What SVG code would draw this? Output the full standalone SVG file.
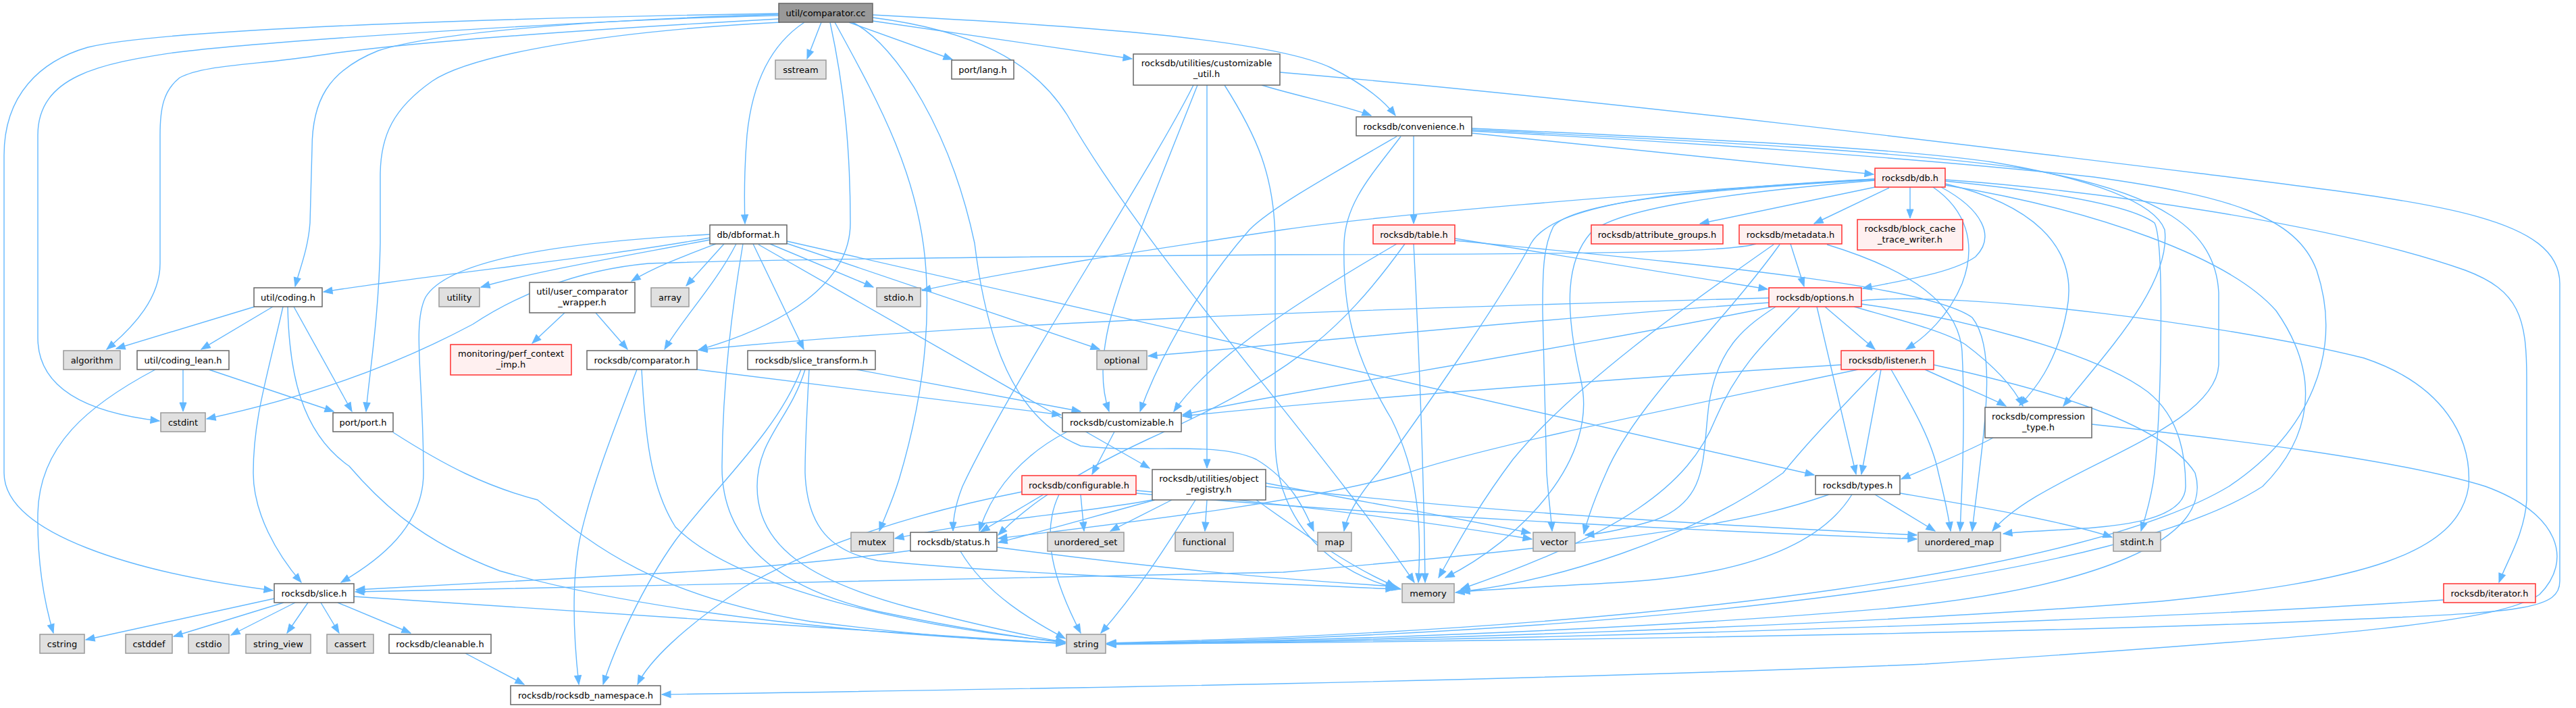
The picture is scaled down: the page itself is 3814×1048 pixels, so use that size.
<svg xmlns="http://www.w3.org/2000/svg" width="3814" height="1048" viewBox="0 0 3814 1048">
<defs>
<marker id="ah" markerUnits="userSpaceOnUse" markerWidth="14" markerHeight="11" refX="13" refY="5" orient="auto" overflow="visible"><path d="M0,0 L13,5 L0,10 z" fill="#63b8ff" stroke="#63b8ff" stroke-width="1"/></marker>
<style>
.w{fill:#ffffff;stroke:#666666;stroke-width:1.5}
.g{fill:#e0e0e0;stroke:#999999;stroke-width:1.5}
.r{fill:#fff0f0;stroke:#ff3030;stroke-width:1.5}
.root{fill:#999999;stroke:#666666;stroke-width:1.5}
text{font-family:"DejaVu Sans","Liberation Sans",sans-serif;font-size:13px;text-anchor:middle;fill:#000000}
#edges path{fill:none;stroke:#63b8ff;stroke-width:1.4;marker-end:url(#ah)}
</style>
</defs>
<rect x="0" y="0" width="3814" height="1048" fill="#ffffff"/>
<g id="edges">
<path d="M1153,20 C900,24 260,38 130,70 C60,90 6,140 6,230 L6,700 C6,790 200,848 404,874"/>
<path d="M1153,23 C900,28 400,60 257,78 C150,94 56,112 56,200 L56,500 C56,580 140,612 236,623"/>
<path d="M1153,28 C900,42 600,62 465,83 C380,96 300,96 266,115 C242,134 237,160 237,200 L237,390 C237,440 200,482 158,517"/>
<path d="M1153,21 C900,29 650,46 560,75 C485,105 462,150 462,220 L459,330 C456,370 443,400 437,424"/>
<path d="M1155,33 C900,46 700,80 640,120 C583,160 563,200 563,260 L563,360 C561,470 546,560 542,609"/>
<path d="M1191,33 C1150,60 1115,110 1106,200 C1101,260 1102,300 1103,331"/>
<path d="M1216,33 L1195,87"/>
<path d="M1229,33 C1250,130 1259,220 1259,330 C1259,420 1160,482 1034,518"/>
<path d="M1236,33 C1300,150 1362,260 1371,400 C1380,540 1346,660 1331,710 C1320,745 1308,770 1302,786"/>
<path d="M1262,33 C1330,67 1409,200 1443,360 C1460,500 1500,620 1600,660 C1700,672 1800,652 1860,680 C1910,710 1930,750 1945,786"/>
<path d="M1257,33 L1410,88"/>
<path d="M1292,31 L1676,87"/>
<path d="M1292,22 C1600,38 1880,58 1970,100 C2020,125 2050,150 2066,171"/>
<path d="M1292,26 C1440,45 1530,90 1580,170 C1700,380 1950,650 2094,862"/>
<path d="M1868,126 C1920,142 1990,156 2030,171"/>
<path d="M1767,126 C1700,260 1500,560 1425,720 C1414,748 1411,770 1411,786"/>
<path d="M1773,126 C1720,260 1662,400 1642,480 C1628,540 1632,580 1642,609"/>
<path d="M1787,126 L1787,693"/>
<path d="M1813,126 C1860,200 1888,260 1888,360 L1888,650 C1888,780 1980,852 2074,872"/>
<path d="M1895,107 C2400,150 3000,225 3300,262 C3600,300 3790,320 3790,420 L3790,860 C3790,900 3740,906 3500,916 C3000,940 2000,952 1639,953"/>
<path d="M2179,197 L2774,258"/>
<path d="M2093,201 L2093,331"/>
<path d="M2068,202 C1950,270 1880,310 1850,340 C1780,420 1720,520 1688,609"/>
<path d="M2074,202 C2030,260 1992,300 1990,360 C1988,450 2000,520 2060,620 C2100,700 2105,780 2100,862"/>
<path d="M2179,190 C2500,205 2800,218 2950,240 C3100,265 3190,300 3205,340 C3215,420 3120,520 3055,601"/>
<path d="M2179,192 C2500,208 2800,222 3000,250 C3200,285 3280,340 3285,433 L3285,540 C3280,640 3020,700 2950,786"/>
<path d="M2179,194 C2500,210 2850,235 3100,262 C3300,290 3400,320 3430,400 C3470,520 3420,640 3300,720 C3100,840 2500,930 1639,952"/>
<path d="M2776,277 L2517,331"/>
<path d="M2797,278 L2686,331"/>
<path d="M2828,277 L2828,323"/>
<path d="M2874,277 C2935,310 2955,350 2925,380 C2890,405 2810,416 2758,427"/>
<path d="M2862,277 C2910,310 2928,360 2905,420 C2885,468 2850,500 2822,517"/>
<path d="M2880,266 C3100,282 3450,330 3650,400 C3730,430 3741,470 3741,560 L3741,740 C3738,790 3712,830 3700,862"/>
<path d="M2776,265 C2400,288 2050,318 1900,340 C1700,370 1500,400 1365,430"/>
<path d="M2776,266 C2500,282 2330,300 2300,335 C2285,365 2284,400 2284,460 L2290,700 C2293,740 2297,770 2298,786"/>
<path d="M2776,267 C2550,286 2390,310 2355,345 C2320,385 2315,450 2340,560 C2370,680 2250,800 2140,855"/>
<path d="M2776,265 C2450,282 2300,305 2267,360 C2225,440 2100,620 2040,700 C2010,735 1994,765 1990,786"/>
<path d="M2880,268 C3000,280 3150,300 3190,330 C3205,360 3200,600 3190,700 C3185,740 3175,770 3170,786"/>
<path d="M2880,272 C3000,300 3080,360 3060,460 C3045,540 3010,580 2990,600"/>
<path d="M2880,274 C3100,310 3300,380 3370,460 C3440,560 3420,650 3350,720 C3150,850 2500,935 1639,953"/>
<path d="M1072,361 L1016,423"/>
<path d="M1090,361 C1060,420 1012,470 984,517"/>
<path d="M1115,361 L1190,517"/>
<path d="M1140,361 L1293,425"/>
<path d="M1164,360 L1628,517"/>
<path d="M1165,357 L2686,703"/>
<path d="M1123,362 L1702,693"/>
<path d="M1100,361 C1085,450 1070,560 1069,690 C1068,800 1150,870 1300,905 C1420,930 1520,945 1577,951"/>
<path d="M1051,352 C900,380 650,405 479,432"/>
<path d="M1051,355 C920,380 800,400 712,425"/>
<path d="M1060,361 C1010,380 970,395 935,416"/>
<path d="M1051,347 C800,360 660,390 630,440 C610,480 627,560 627,700 C627,780 560,830 505,862"/>
<path d="M377,454 L172,516"/>
<path d="M404,454 L298,517"/>
<path d="M419,454 C395,560 375,620 375,700 C375,760 410,820 446,862"/>
<path d="M426,454 C428,550 445,640 517,690 C560,740 620,800 740,845 C1000,920 1400,945 1577,952"/>
<path d="M435,454 L521,609"/>
<path d="M271,547 L271,609"/>
<path d="M309,547 L494,609"/>
<path d="M230,547 C130,600 58,660 56,760 C55,830 65,890 79,937"/>
<path d="M836,463 L788,508"/>
<path d="M882,463 L929,517"/>
<path d="M1032,547 L1571,614"/>
<path d="M943,547 C915,620 875,720 858,800 C845,870 850,950 857,1013"/>
<path d="M950,547 C955,640 962,720 1000,780 C1100,880 1400,935 1577,950"/>
<path d="M1268,547 L1600,609"/>
<path d="M1186,547 C1150,640 1060,720 1000,800 C950,870 910,960 893,1013"/>
<path d="M1192,547 C1170,620 1121,650 1121,720 C1121,810 1200,860 1350,900 C1460,928 1530,944 1577,950"/>
<path d="M1198,547 C1194,620 1192,660 1192,700 C1195,780 1230,817 1300,830 C1500,850 1800,860 2065,872"/>
<path d="M2619,441 C2300,450 1500,470 1034,518"/>
<path d="M2619,448 C2300,470 1900,510 1700,527"/>
<path d="M2625,454 C2300,520 1900,580 1751,614"/>
<path d="M2702,454 L2776,517"/>
<path d="M2690,454 L2748,702"/>
<path d="M2745,454 C2800,470 2880,490 2910,510 C2950,540 2980,570 2995,601"/>
<path d="M2665,454 C2620,500 2574,540 2540,620 C2500,720 2400,790 2163,872"/>
<path d="M2629,454 C2590,480 2543,510 2530,600 C2520,680 2530,740 2450,770 C2400,785 2370,790 2347,792"/>
<path d="M2756,445 C2900,430 3300,480 3500,530 C3620,570 3660,650 3655,720 C3640,820 3500,860 3200,890 C2700,930 2000,950 1639,953"/>
<path d="M2756,450 C2900,470 3100,520 3180,580 C3230,620 3236,680 3236,720 C3236,790 3050,780 2966,790"/>
<path d="M2726,540 C2400,560 2000,590 1751,616"/>
<path d="M2751,547 C2500,600 2200,660 2084,700 C1950,740 1700,770 1478,797"/>
<path d="M2850,547 C2900,570 2950,590 2970,601"/>
<path d="M2785,547 L2756,702"/>
<path d="M2780,547 C2730,600 2680,650 2640,700 C2500,800 2300,860 2163,876"/>
<path d="M2800,547 C2830,600 2860,650 2870,700 C2880,740 2885,765 2888,786"/>
<path d="M2863,540 C3000,570 3200,620 3250,700 C3280,800 3100,870 2800,900 C2400,935 1900,950 1639,953"/>
<path d="M2651,361 L2671,424"/>
<path d="M2600,361 C2560,373 2400,376 1900,377 C1500,380 1100,385 960,390 C850,400 760,440 700,480 C550,560 400,600 306,620"/>
<path d="M2626,362 C2500,450 2330,570 2240,680 C2180,760 2150,820 2130,855"/>
<path d="M2635,362 C2550,480 2420,600 2378,700 C2360,740 2350,770 2345,790"/>
<path d="M2705,362 C2830,400 2900,450 2905,520 C2910,620 2905,720 2902,786"/>
<path d="M2154,353 L2617,428"/>
<path d="M2068,361 C1950,430 1800,520 1738,609"/>
<path d="M2080,361 C1980,500 1900,560 1700,650 C1550,720 1500,770 1478,792"/>
<path d="M2093,361 C2100,500 2108,700 2110,862"/>
<path d="M2154,356 C2500,390 2850,420 2920,470 C2960,520 2935,650 2920,786"/>
<path d="M2708,732 C2600,770 2450,800 1900,847 C1400,860 900,870 526,876"/>
<path d="M2813,730 C2900,745 3050,770 3127,795"/>
<path d="M2742,732 C2700,800 2600,850 2400,862 C2300,868 2200,872 2155,877"/>
<path d="M2776,732 L2865,786"/>
<path d="M2951,648 C2910,670 2860,690 2815,709"/>
<path d="M3097,628 C3300,650 3550,680 3680,720 C3790,760 3810,830 3760,880 C3700,920 3500,940 2850,983 C2200,1010 1500,1020 980,1028"/>
<path d="M1545,732 L1452,787"/>
<path d="M1568,732 C1540,790 1560,860 1600,937"/>
<path d="M1600,732 L1605,786"/>
<path d="M1513,728 C1350,760 1200,810 1100,870 C1010,930 960,980 944,1013"/>
<path d="M1682,726 C1900,745 2100,770 2268,798"/>
<path d="M1682,730 C2000,760 2500,785 2838,798"/>
<path d="M1706,740 C1600,760 1450,770 1325,797"/>
<path d="M1710,740 C1600,770 1530,790 1478,803"/>
<path d="M1735,740 L1644,786"/>
<path d="M1770,740 C1720,820 1680,880 1630,937"/>
<path d="M1787,740 L1784,786"/>
<path d="M1860,740 C1930,790 2000,840 2066,868"/>
<path d="M1874,715 C2000,740 2150,765 2266,789"/>
<path d="M1874,720 C2200,760 2600,780 2838,792"/>
<path d="M1348,815 C1200,835 1050,845 950,850 C800,858 650,866 527,873"/>
<path d="M1422,816 C1460,880 1530,920 1577,945"/>
<path d="M1476,810 C1700,840 1900,858 2065,868"/>
<path d="M1650,639 L1617,702"/>
<path d="M1580,639 C1520,670 1470,720 1450,786"/>
<path d="M689,967 L776,1013"/>
<path d="M406,886 L127,947"/>
<path d="M420,892 L257,942"/>
<path d="M437,892 L342,940"/>
<path d="M456,892 L425,937"/>
<path d="M475,892 L502,937"/>
<path d="M500,892 L608,937"/>
<path d="M524,883 C800,900 1300,935 1577,953"/>
<path d="M582,640 C660,690 720,720 796,740 C870,800 960,880 1200,920 C1400,945 1500,950 1577,952"/>
<path d="M3618,888 C3300,910 2500,945 1639,954"/>
</g>
<g id="n1"><rect class="root" x="1153" y="5" width="139" height="28"/><text x="1222.5" y="24">util/comparator.cc</text></g>
<g id="n2"><rect class="g" x="1148" y="89" width="75" height="28"/><text x="1185.5" y="108">sstream</text></g>
<g id="n3"><rect class="w" x="1409" y="89" width="92" height="28"/><text x="1455" y="108">port/lang.h</text></g>
<g id="n4"><rect class="w" x="1678" y="80" width="217" height="46"/><text x="1786.5" y="98">rocksdb/utilities/customizable</text><text x="1786.5" y="114">_util.h</text></g>
<g id="n5"><rect class="w" x="2008" y="173" width="171" height="28"/><text x="2093.5" y="192">rocksdb/convenience.h</text></g>
<g id="n6"><rect class="r" x="2776" y="249" width="104" height="28"/><text x="2828" y="268">rocksdb/db.h</text></g>
<g id="n7"><rect class="w" x="1051" y="333" width="114" height="28"/><text x="1108" y="352">db/dbformat.h</text></g>
<g id="n8"><rect class="r" x="2033" y="333" width="121" height="28"/><text x="2093.5" y="352">rocksdb/table.h</text></g>
<g id="n9"><rect class="r" x="2356" y="333" width="195" height="28"/><text x="2453.5" y="352">rocksdb/attribute_groups.h</text></g>
<g id="n10"><rect class="r" x="2575" y="333" width="152" height="28"/><text x="2651" y="352">rocksdb/metadata.h</text></g>
<g id="n11"><rect class="r" x="2750" y="325" width="156" height="45"/><text x="2828" y="343">rocksdb/block_cache</text><text x="2828" y="359">_trace_writer.h</text></g>
<g id="n12"><rect class="w" x="376" y="426" width="101" height="28"/><text x="426.5" y="445">util/coding.h</text></g>
<g id="n13"><rect class="g" x="650" y="426" width="60" height="28"/><text x="680" y="445">utility</text></g>
<g id="n14"><rect class="w" x="784" y="418" width="156" height="45"/><text x="862" y="436">util/user_comparator</text><text x="862" y="452">_wrapper.h</text></g>
<g id="n15"><rect class="g" x="964" y="426" width="56" height="28"/><text x="992" y="445">array</text></g>
<g id="n16"><rect class="g" x="1298" y="426" width="65" height="28"/><text x="1330.5" y="445">stdio.h</text></g>
<g id="n17"><rect class="r" x="2619" y="426" width="137" height="28"/><text x="2687.5" y="445">rocksdb/options.h</text></g>
<g id="n18"><rect class="g" x="94" y="519" width="84" height="28"/><text x="136" y="538">algorithm</text></g>
<g id="n19"><rect class="w" x="203" y="519" width="136" height="28"/><text x="271" y="538">util/coding_lean.h</text></g>
<g id="n20"><rect class="r" x="667" y="510" width="179" height="45"/><text x="756.5" y="528">monitoring/perf_context</text><text x="756.5" y="544">_imp.h</text></g>
<g id="n21"><rect class="w" x="869" y="519" width="163" height="28"/><text x="950.5" y="538">rocksdb/comparator.h</text></g>
<g id="n22"><rect class="w" x="1107" y="519" width="189" height="28"/><text x="1201.5" y="538">rocksdb/slice_transform.h</text></g>
<g id="n23"><rect class="g" x="1624" y="519" width="74" height="28"/><text x="1661" y="538">optional</text></g>
<g id="n24"><rect class="r" x="2726" y="519" width="137" height="28"/><text x="2794.5" y="538">rocksdb/listener.h</text></g>
<g id="n25"><rect class="g" x="238" y="611" width="66" height="28"/><text x="271" y="630">cstdint</text></g>
<g id="n26"><rect class="w" x="493" y="611" width="89" height="28"/><text x="537.5" y="630">port/port.h</text></g>
<g id="n27"><rect class="w" x="1573" y="611" width="176" height="28"/><text x="1661" y="630">rocksdb/customizable.h</text></g>
<g id="n28"><rect class="w" x="2939" y="603" width="158" height="45"/><text x="3018" y="621">rocksdb/compression</text><text x="3018" y="637">_type.h</text></g>
<g id="n29"><rect class="w" x="2688" y="704" width="125" height="28"/><text x="2750.5" y="723">rocksdb/types.h</text></g>
<g id="n30"><rect class="r" x="1513" y="704" width="169" height="28"/><text x="1597.5" y="723">rocksdb/configurable.h</text></g>
<g id="n31"><rect class="w" x="1706" y="695" width="168" height="45"/><text x="1790" y="713">rocksdb/utilities/object</text><text x="1790" y="729">_registry.h</text></g>
<g id="n32"><rect class="g" x="1260" y="788" width="63" height="28"/><text x="1291.5" y="807">mutex</text></g>
<g id="n33"><rect class="w" x="1348" y="788" width="128" height="28"/><text x="1412" y="807">rocksdb/status.h</text></g>
<g id="n34"><rect class="g" x="1551" y="788" width="113" height="28"/><text x="1607.5" y="807">unordered_set</text></g>
<g id="n35"><rect class="g" x="1740" y="788" width="86" height="28"/><text x="1783" y="807">functional</text></g>
<g id="n36"><rect class="g" x="1951" y="788" width="50" height="28"/><text x="1976" y="807">map</text></g>
<g id="n37"><rect class="g" x="2270" y="788" width="62" height="28"/><text x="2301" y="807">vector</text></g>
<g id="n38"><rect class="g" x="2840" y="788" width="122" height="28"/><text x="2901" y="807">unordered_map</text></g>
<g id="n39"><rect class="g" x="3129" y="788" width="70" height="28"/><text x="3164" y="807">stdint.h</text></g>
<g id="n40"><rect class="w" x="406" y="864" width="118" height="28"/><text x="465" y="883">rocksdb/slice.h</text></g>
<g id="n41"><rect class="g" x="2076" y="864" width="77" height="28"/><text x="2114.5" y="883">memory</text></g>
<g id="n42"><rect class="r" x="3618" y="864" width="136" height="28"/><text x="3686" y="883">rocksdb/iterator.h</text></g>
<g id="n43"><rect class="g" x="59" y="939" width="66" height="28"/><text x="92" y="958">cstring</text></g>
<g id="n44"><rect class="g" x="186" y="939" width="69" height="28"/><text x="220.5" y="958">cstddef</text></g>
<g id="n45"><rect class="g" x="279" y="939" width="60" height="28"/><text x="309" y="958">cstdio</text></g>
<g id="n46"><rect class="g" x="364" y="939" width="96" height="28"/><text x="412" y="958">string_view</text></g>
<g id="n47"><rect class="g" x="484" y="939" width="69" height="28"/><text x="518.5" y="958">cassert</text></g>
<g id="n48"><rect class="w" x="576" y="939" width="151" height="28"/><text x="651.5" y="958">rocksdb/cleanable.h</text></g>
<g id="n49"><rect class="g" x="1579" y="939" width="58" height="28"/><text x="1608" y="958">string</text></g>
<g id="n50"><rect class="w" x="756" y="1015" width="222" height="28"/><text x="867" y="1034">rocksdb/rocksdb_namespace.h</text></g>
</svg>
